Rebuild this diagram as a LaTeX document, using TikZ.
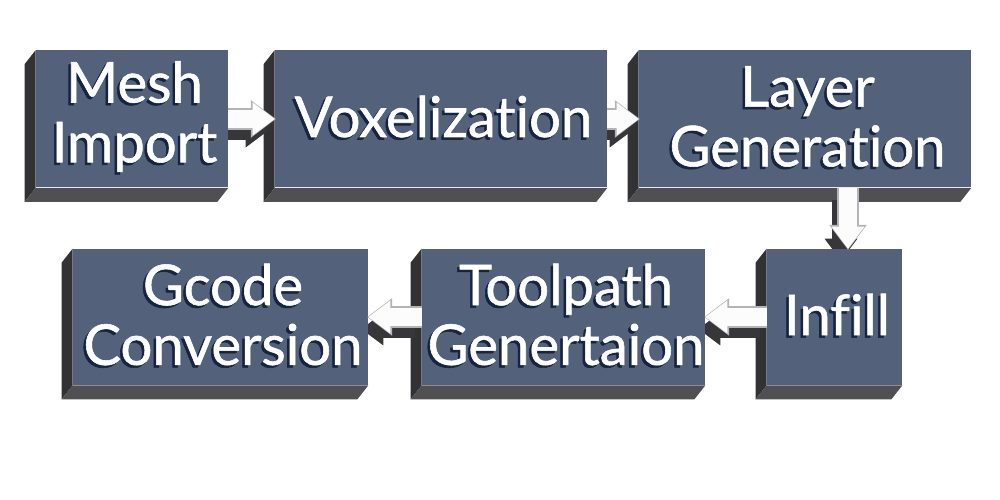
\documentclass[tikz,border=0pt]{standalone}
\usepackage{fontspec}
\setmainfont{Lato}[Ligatures=NoCommon]
\newfontfamily\boxfont{Lato}[Ligatures=NoCommon, FakeBold=1]
\usetikzlibrary{arrows.meta,backgrounds}
\definecolor{boxface}{RGB}{83,97,122}
\definecolor{textshade}{RGB}{22,36,64}
\definecolor{sidedark}{RGB}{50,50,52}
\definecolor{sidebottom}{RGB}{80,80,82}
\definecolor{arrowshade}{RGB}{55,55,57}
\definecolor{arrowedge}{RGB}{180,180,184}
\definecolor{arrowbody}{RGB}{252,252,252}
\tikzset{
  block/.style={rectangle, fill=boxface, minimum height=2.74cm, inner sep=0pt,
    align=center, text=textshade, font=\boxfont\fontsize{32}{34}\selectfont},
  caption/.style={inner sep=0pt, align=center, text=white,
    font=\boxfont\fontsize{32}{34}\selectfont},
  flow/.style={line width=0.36cm, arrowbody,
    -{Triangle[length=0.44cm,width=0.66cm,line width=0pt]}},
  flowedge/.style={line width=0.36cm+2pt, arrowedge,
    -{Triangle[length=0.44cm+1.6pt,width=0.66cm+2.6pt,line width=0pt,fill=arrowedge]},
    shorten >=-0.6pt},
  flowshade/.style={flow, draw=arrowshade,
    -{Triangle[length=0.44cm,width=0.66cm,line width=0pt,fill=arrowshade]},
    transform canvas={xshift=-0.14cm,yshift=-0.24cm}}
}
\begin{document}
\begin{tikzpicture}
            \useasboundingbox (0, 0) rectangle (20, 10);

            %%top row
            \node[block, minimum width=3.84cm] (mesh) at (2.64, 7.62){Mesh\\Import};
                \node[caption] at ([shift={(0.05,0.05)}]mesh.center){Mesh\\Import};
            \node[block, minimum width=6.64cm] (voxel) at (8.82, 7.62){Voxelization};
                \node[caption] at ([shift={(0.05,0.05)}]voxel.center){Voxelization};
            \node[block, minimum width=6.64cm] (layer) at (16.1, 7.62){Layer\\Generation};
                \node[caption] at ([shift={(0.05,0.05)}]layer.center){Layer\\Generation};

            %%bottom row
            \node[block, minimum width=5.9cm, minimum height=2.72cm] (gcode) at (4.41, 3.66){Gcode\\Conversion};
                \node[caption] at ([shift={(0.05,0.05)}]gcode.center){Gcode\\Conversion};
            \node[block, minimum width=5.66cm, minimum height=2.72cm] (toolpath) at (11.27, 3.66){Toolpath\\Genertaion};
                \node[caption] at ([shift={(0.05,0.05)}]toolpath.center){Toolpath\\Genertaion};
            \node[block, minimum width=2.7cm, minimum height=2.72cm] (infill) at (16.69, 3.66){Infill};
                \node[caption] at ([shift={(0.05,0.05)}]infill.center){Infill};

            \coordinate (down) at ([xshift=0.27cm]infill.north);

            %%draw the block sides and arrow shadows
            \begin{scope}[on background layer]
                \fill[white] (0, 0) rectangle (20, 10);
                \foreach \b in {mesh, voxel, layer, gcode, toolpath, infill}{
                    \fill[sidedark] (\b.north west) -- ([shift={(-0.22,-0.28)}]\b.north west)
                        -- ([shift={(-0.22,-0.28)}]\b.south west) -- (\b.south west) -- cycle;
                    \fill[sidebottom] (\b.south west) -- ([shift={(-0.22,-0.28)}]\b.south west)
                        -- ([shift={(-0.22,-0.28)}]\b.south east) -- (\b.south east) -- cycle;
                }
                \draw[flowshade] (mesh.east) -- (mesh.east -| voxel.west);
                \draw[flowshade] (voxel.east) -- (voxel.east -| layer.west);
                \draw[flowshade] (layer.south -| down) -- (down);
                \draw[flowshade] (infill.west) -- (infill.west -| toolpath.east);
                \draw[flowshade] (toolpath.west) -- (toolpath.west -| gcode.east);
            \end{scope}

            %%draw the arrows
            \draw[flowedge] (mesh.east) -- (mesh.east -| voxel.west);
            \draw[flowedge] (voxel.east) -- (voxel.east -| layer.west);
            \draw[flowedge] (layer.south -| down) -- (down);
            \draw[flowedge] (infill.west) -- (infill.west -| toolpath.east);
            \draw[flowedge] (toolpath.west) -- (toolpath.west -| gcode.east);
            \draw[flow] (mesh.east) -- (mesh.east -| voxel.west);
            \draw[flow] (voxel.east) -- (voxel.east -| layer.west);
            \draw[flow] (layer.south -| down) -- (down);
            \draw[flow] (infill.west) -- (infill.west -| toolpath.east);
            \draw[flow] (toolpath.west) -- (toolpath.west -| gcode.east);

\end{tikzpicture}
\end{document}
